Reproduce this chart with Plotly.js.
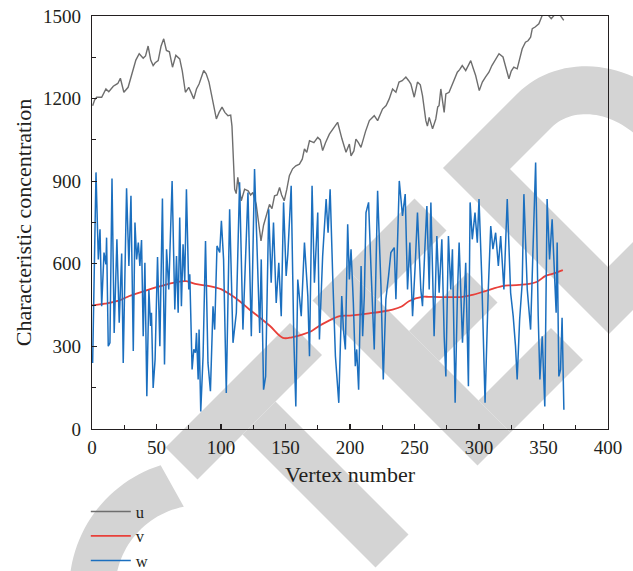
<!DOCTYPE html>
<html>
<head>
<meta charset="utf-8">
<script src="https://cdn.plot.ly/plotly-3.0.1.min.js"></script>
<style>html,body{margin:0;padding:0;background:#fff;}#chart{width:633px;height:571px;}</style>
</head>
<body>
<div id="chart"></div>
<script>
// ---- data ----
const seriesNames = ["u", "v", "w"];
const xTicks = [0, 50, 100, 150, 200, 250, 300, 350, 400];
const yTicks = [0, 300, 600, 900, 1200, 1500];

const u_x = [0.5,2,3.6,7.5,10.8,13,16.5,20,22,24.7,28,31.9,34,36.6,39.7,41.5,43.5,45.5,47.4,49,51.3,53.5,55.6,57.7,60,62.4,65,68,70,72.4,75,77,78.9,81,83,86.6,88.5,90.7,93,96.4,98.5,100.8,103,105.4,107.5,108.5,110.6,111.8,113,115.7,118.3,121,123,124.7,127.3,129,131,133,135,137.6,139.5,141.5,143.5,145.4,147,149,151,153,155.5,158,160.8,163,164.7,166.5,168.6,172,175,177,178.8,181,184,187,190.4,193.8,196.9,199.5,200.8,203,204.6,206.5,208.5,212,215,218.8,221.4,225.2,228,230.4,233,235.6,238,240.5,243.3,245.5,247.2,249.8,252.3,254.5,256.2,258.8,260,261.4,264,266.5,268,269,270.4,273,274.3,276.8,279.4,281,283.2,285,287,289.7,291.5,293.6,295.5,297.4,300.2,302.6,305,307.7,310,312.5,315.5,318.6,321,323.2,325,327,329.6,331.5,333.5,336,338,340,341.3,343.5,346.4,349,352.8,356,359.3,363,365.7];
const u_y = [1174,1195,1205,1205,1235,1225,1245,1255,1274,1223,1241,1308,1340,1363,1347,1355,1391,1340,1320,1330,1338,1390,1417,1375,1370,1314,1357,1344,1300,1223,1241,1220,1199,1235,1253,1302,1290,1260,1200,1126,1150,1169,1150,1138,1140,1100,871,855,914,829,871,865,850,859,816,760,683,740,774,816,800,847,850,877,850,829,870,920,945,956,962,980,1017,1005,1047,1040,1059,1050,1011,1040,1071,1090,1114,1053,1005,1035,992,1010,1053,1040,1023,1080,1120,1138,1120,1162,1175,1199,1235,1223,1260,1265,1278,1265,1253,1205,1260,1250,1211,1120,1100,1132,1090,1126,1170,1174,1235,1150,1217,1223,1253,1270,1296,1305,1320,1302,1320,1338,1310,1284,1229,1260,1278,1296,1320,1340,1363,1351,1310,1272,1300,1314,1308,1340,1381,1405,1410,1423,1454,1460,1472,1502,1508,1490,1508,1502,1484];

const v_x = [0,10,20,29,40,50,63,73,80,91,100,107,115,122,130,138,148,155,163,170,176,183,192,200,215,233,240,246,256,261,270,287,295,305,318,325,336,345,351.6,358,365];
const v_y = [449,455,465,483,500,515,531,537,527,519,508,489,462,434,405,374,331,333,343,355,374,392,410,412,420,434,445,465,480,480,479,480,487,501,519,522,525,535,556,565,577];

const w_x = [0.5,3.1,4.9,6.2,7.5,9.3,10.8,11.3,12.6,13.9,15.5,17.2,19.3,21.1,23,24.2,26.8,28.6,30.2,32,33.3,34.6,35.9,37.1,38.4,39.7,41,42.5,44.1,45.4,46.1,47.4,48.9,50.8,52.6,54.6,56.2,57.8,59.5,62.1,64.2,65.5,66.8,68,69.3,70.6,71.9,73.2,75,75.8,77.6,78.9,80.2,81,82.3,83,84.3,86.1,88,89.9,91.8,93.8,95.1,96.9,99,100.3,102,104.1,106.7,109.3,111.9,114.4,117,118.3,120.9,123.5,126,128.8,130,131.2,133,134.6,137,138.9,140.7,142.8,144.8,146.7,148.5,150.5,151.8,154.4,156.4,158,159.5,162.2,164.7,167.3,168.6,170.6,172.4,175,176.3,178.8,181.5,183,184.6,186.6,188.7,191.3,193.6,194.9,196.4,198.2,199.5,200.8,202.6,204.1,205.2,206.7,208.6,209.8,211.1,212.4,214.4,216.3,218.8,221.4,224,225.8,227.8,229.9,231.7,234.3,235.6,238.2,240.7,242.8,244.6,246.4,248.5,250.5,252.3,254.9,256.2,258,259.6,261.4,262.7,265.2,267.3,269.1,271.2,273,274.3,276.3,278.1,279.4,281.5,283.3,284.6,287.2,289.7,291.8,293.1,294.8,296.9,298.7,300,302.1,304.7,307.2,309.1,310.8,312.9,315,316.8,319.3,321.9,324.5,326.5,328.3,329.6,331.5,333.5,334.8,337.4,340,342.1,343.9,345.9,347.2,349,351,352.8,354.7,356.7,358.3,359.8,360.6,361.9,363.2,364.4,365.8];
const w_y = [240,932,616,725,446,641,598,695,301,313,910,349,689,386,637,240,874,592,847,283,750,616,677,592,686,337,604,119,505,374,422,149,252,625,301,837,234,653,507,901,434,628,422,768,446,671,537,871,507,562,216,289,277,349,180,361,64,264,683,240,137,446,361,665,641,756,616,131,798,313,422,896,361,531,859,337,944,531,349,616,143,191,798,531,750,458,604,410,823,556,634,883,337,82,543,410,677,483,264,883,531,786,325,628,835,713,871,556,264,95,483,361,289,744,543,653,458,228,289,143,592,337,483,786,823,580,289,865,519,180,471,556,641,659,471,901,774,853,507,677,410,592,786,507,446,653,810,507,823,337,701,495,689,337,191,701,507,653,95,495,677,313,604,155,823,689,786,677,835,556,95,507,737,653,713,592,701,507,835,495,410,301,180,398,531,853,507,361,653,968,410,180,337,82,835,616,762,556,422,677,191,216,404,70];

// ---- styling ----
const FONT = "Liberation Serif, DejaVu Serif, serif";
const INK = "#231f20";
const colors = ["#6e6e6e", "#e8403a", "#1b6fbf"];

// plot area in pixels (for the faint background watermark only)
const PL = 92, PW = 516, PT = 16, PH = 413;
function toPaper(px, py) { return [(px - PL) / PW, (PT + PH - py) / PH]; }
// letters are rotated 45deg: A = x - y, B = x + y
function ab(A, B) { return toPaper((A + B) / 2, (B - A) / 2); }
function sub(pts) {
  return pts.map((p, i) => (i ? "L" : "M") + ab(p[0], p[1]).map(v => v.toFixed(5)).join(",")).join(" ") + " Z";
}
function rect(A0, A1, B0, B1) { return sub([[A0, B0], [A1, B0], [A1, B1], [A0, B1]]); }
function ellPts(cA, cB, rA, rB, t0, t1, n) {
  const out = [];
  for (let i = 0; i <= n; i++) {
    const t = (t0 + (t1 - t0) * i / n) * Math.PI / 180;
    out.push([cA + rA * Math.cos(t), cB + rB * Math.sin(t)]);
  }
  return out;
}
const wmPaths = [];
// C
wmPaths.push(sub(ellPts(-390, 790, 185, 185, -62.5, -220, 60).concat(ellPts(-390, 790, 120, 120, -220, -56, 60))));
// T
wmPaths.push(rect(-282, -33, 613, 677));
wmPaths.push(rect(-192, -126, 677, 943));
// E
wmPaths.push(rect(12, 78, 613, 943));
wmPaths.push(rect(78, 216, 613, 677));
wmPaths.push(rect(78, 195, 740, 800));
wmPaths.push(rect(78, 223, 879, 943));
// D
wmPaths.push(
  sub([[275, 611], [424, 611]].concat(ellPts(424, 777, 145, 166, -90, 90, 60)).concat([[275, 943]])) + " " +
  sub([[341, 679], [341, 875], [424, 875]].concat(ellPts(424, 777, 77, 98, 90, -90, 60)).concat([[424, 679]]))
);
const shapes = wmPaths.map(p => ({
  type: "path", xref: "paper", yref: "paper", path: p,
  fillcolor: "#d4d4d4", line: { width: 0 }, layer: "below"
}));

const traces = [
  { x: u_x, y: u_y, name: seriesNames[0], type: "scatter", mode: "lines", line: { color: colors[0], width: 1.4 } },
  { x: v_x, y: v_y, name: seriesNames[1], type: "scatter", mode: "lines", line: { color: colors[1], width: 1.8, shape: "spline" } },
  { x: w_x, y: w_y, name: seriesNames[2], type: "scatter", mode: "lines", line: { color: colors[2], width: 1.5 } }
];

const axisCommon = {
  showgrid: false, zeroline: false, showline: true, mirror: true,
  linecolor: INK, linewidth: 1.2, ticks: "inside", ticklen: 5, tickwidth: 1.2, tickcolor: INK,
  tickfont: { family: FONT, size: 19, color: INK }, automargin: false
};

const layout = {
  width: 633, height: 571,
  margin: { l: PL, r: 633 - PL - PW, t: PT, b: 571 - PT - PH, autoexpand: false },
  paper_bgcolor: "#ffffff", plot_bgcolor: "rgba(0,0,0,0)",
  font: { family: FONT, color: INK },
  showlegend: true,
  legend: {
    x: -0.012, xanchor: "left", y: -0.158, yanchor: "top",
    bgcolor: "rgba(0,0,0,0)", font: { family: FONT, size: 16.5, color: INK },
    tracegroupgap: 0, itemwidth: 40
  },
  xaxis: Object.assign({}, axisCommon, {
    range: [0, 400], tickvals: xTicks, ticktext: xTicks.map(String), ticklabelstandoff: 1,
    minor: { dtick: 25, tick0: 0, ticks: "inside", ticklen: 4, tickcolor: INK, tickwidth: 1.1, showgrid: false },
    title: { text: "Vertex number", font: { family: FONT, size: 22, color: INK }, standoff: 9 }
  }),
  yaxis: Object.assign({}, axisCommon, {
    range: [0, 1500], tickvals: yTicks, ticktext: yTicks.map(String), ticklabelstandoff: 6,
    minor: { dtick: 150, tick0: 0, ticks: "inside", ticklen: 4, tickcolor: INK, tickwidth: 1.1, showgrid: false },
    title: { text: "Characteristic concentration", font: { family: FONT, size: 22, color: INK }, standoff: 5 }
  }),
  shapes: shapes
};

Plotly.newPlot("chart", traces, layout, { displayModeBar: false, staticPlot: true });
</script>
</body>
</html>
